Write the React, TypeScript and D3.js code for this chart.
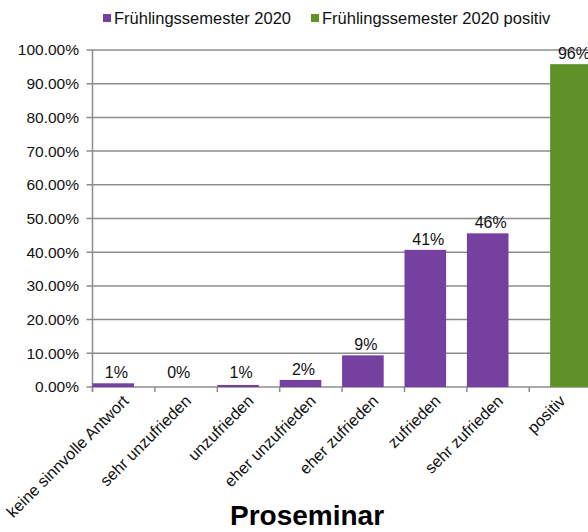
import React from "react";
import * as d3 from "d3";

const categories = [
  "keine sinnvolle Antwort",
  "sehr unzufrieden",
  "unzufrieden",
  "eher unzufrieden",
  "eher zufrieden",
  "zufrieden",
  "sehr zufrieden",
  "positiv",
];
const semesterValues: (number | null)[] = [1.1, 0, 0.6, 2.1, 9.4, 40.7, 45.6, null];
const positivValues: (number | null)[] = [null, null, null, null, null, null, null, 95.8];
const yTicks = [0, 10, 20, 30, 40, 50, 60, 70, 80, 90, 100];
const seriesNames = ["Frühlingssemester 2020", "Frühlingssemester 2020 positiv"];
const seriesColors = ["#7540A0", "#60922A"];

const W = 588;
const H = 532;
const FONT = "'Liberation Sans', Arial, sans-serif";

export default function App() {
  const x = d3.scaleBand<string>().domain(categories).range([92.5, 92.5 + 8 * 62.4]).padding(0);
  const y = d3.scaleLinear().domain([0, 100]).range([387, 50]);
  const bw = x.bandwidth();
  const barW = (bw * 2) / 3;
  const offsets = [0, bw / 3];
  const series = [semesterValues, positivValues];
  const fmt = (v: number) => `${Math.round(v)}%`;

  return (
    <svg width={W} height={H} style={{ position: "absolute", left: 0, top: 0, background: "#fff" }} fontFamily={FONT}>
      {/* legend */}
      <g>
        <rect x={103} y={14} width={8} height={8} fill={seriesColors[0]} />
        <text x={114} y={24} fontSize={16.5} fill="#111">{seriesNames[0]}</text>
        <rect x={311} y={14} width={8} height={8} fill={seriesColors[1]} />
        <text x={322} y={24} fontSize={16.5} fill="#111">{seriesNames[1]}</text>
      </g>
      {/* gridlines */}
      {yTicks.map((t) => (
        <line key={"g" + t} x1={x.range()[0] - 6} x2={W} y1={y(t)} y2={y(t)} stroke="#8c8c8c" strokeWidth={1.5} />
      ))}
      {/* y axis line */}
      <line x1={x.range()[0]} x2={x.range()[0]} y1={y(100)} y2={y(0) + 5} stroke="#8c8c8c" strokeWidth={1.5} />
      {/* x ticks */}
      {categories.map((c) => (
        <line key={"xt" + c} x1={x(c)!} x2={x(c)!} y1={y(0)} y2={y(0) + 5} stroke="#8c8c8c" strokeWidth={1.5} />
      ))}
      {/* y tick labels */}
      {yTicks.map((t) => (
        <text key={"yl" + t} x={79} y={y(t)} dy="0.35em" textAnchor="end" fontSize={15.5} fill="#111">
          {t.toFixed(2)}%
        </text>
      ))}
      {/* bars */}
      {series.map((vals, si) =>
        vals.map((v, i) =>
          v === null ? null : (
            <rect
              key={`b${si}-${i}`}
              x={x(categories[i])! + offsets[si]}
              y={y(v)}
              width={barW}
              height={y(0) - y(v)}
              fill={seriesColors[si]}
            />
          )
        )
      )}
      {/* value labels */}
      {series.map((vals, si) =>
        vals.map((v, i) =>
          v === null ? null : (
            <text
              key={`l${si}-${i}`}
              x={x(categories[i])! + offsets[si] + barW / 2 + 3}
              y={Math.min(y(v), y(0) - 4) - 5}
              textAnchor="middle"
              fontSize={16}
              fill="#111"
            >
              {fmt(v)}
            </text>
          )
        )
      )}
      {/* category labels */}
      {categories.map((c) => (
        <text
          key={"cl" + c}
          transform={`translate(${x(c)! + bw / 2 + 6},${y(0) + 15}) rotate(-45)`}
          textAnchor="end"
          fontSize={16.2}
          fill="#111"
        >
          {c}
        </text>
      ))}
      {/* title */}
      <text x={307} y={525} textAnchor="middle" fontSize={28} fontWeight="bold" fill="#000">
        Proseminar
      </text>
    </svg>
  );
}
